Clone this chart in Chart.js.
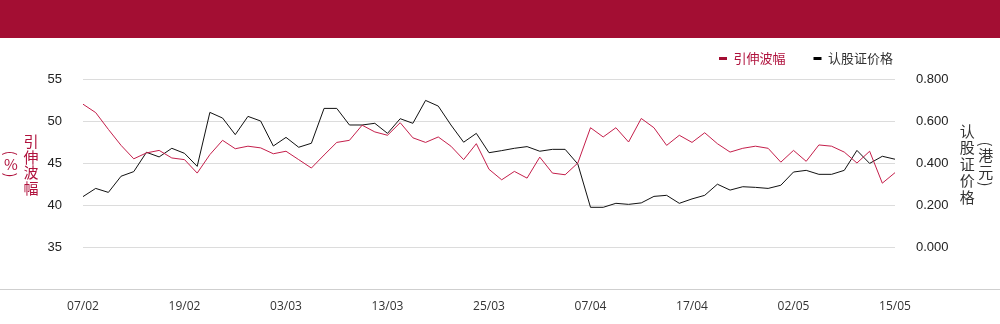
<!DOCTYPE html>
<html lang="zh">
  <head>
    <meta charset="UTF-8" />
    <title>引伸波幅 / 认股证价格</title>
    <style>
      * { margin: 0; padding: 0; }
      body { width: 1000px; height: 324px; position: relative; background: #fff; overflow: hidden; }
      .header { position: absolute; left: 0; top: 0; width: 1000px; height: 38px; background: #a30e33; }
      .wrap { position: absolute; left: 0; top: 38px; width: 1000px; height: 286px; }
      .baseline { position: absolute; left: 0; top: 289px; width: 1000px; height: 1px; background: #cfcfcf; }

      /* stacked (vertical) axis titles */
      .ytitle {
        position: absolute;
        display: flex;
        align-items: center;
        font-family: "Noto Sans CJK SC", sans-serif;
        font-size: 15px;
        z-index: 2;
      }
      .ytitle .col { text-align: center; }
      .ytitle .col div { line-height: 15.5px; }
      .ytitle .col .p { position: relative; height: 7px; }
      .ytitle .col .p span {
        position: absolute; left: 0; right: 0; top: 50%;
        margin-top: -8px; line-height: 16px;
        transform: rotate(90deg);
      }
      .ytitle.left { left: 1px; top: 124px; height: 80px; color: #b0123d; }
      .ytitle.left .col { width: 20px; }
      .ytitle.right { left: 958px; top: 122px; height: 84px; color: #333; }
      .ytitle.right .col { width: 18.5px; }
      .ytitle.right .col div { line-height: 16.6px; }
      .ytitle.right .col .p { height: 7px; }
    </style>
  </head>
  <body>
    <div class="header"></div>
    <div class="wrap"><canvas id="myChart"></canvas></div>
    <div class="baseline"></div>

    <div class="ytitle left">
      <div class="col">
        <div class="p"><span>(</span></div>
        <div>%</div>
        <div class="p"><span>)</span></div>
      </div>
      <div class="col"><div>引</div><div>伸</div><div>波</div><div>幅</div></div>
    </div>
    <div class="ytitle right">
      <div class="col"><div>认</div><div>股</div><div>证</div><div>价</div><div>格</div></div>
      <div class="col">
        <div class="p"><span>(</span></div>
        <div>港</div><div>元</div>
        <div class="p"><span>)</span></div>
      </div>
    </div>

    <script src="https://cdn.jsdelivr.net/npm/chart.js@4/dist/chart.umd.min.js"></script>
    <script>
      // Trading days (dd/mm)
      const dates = [
        '07/02', '10/02', '11/02', '12/02', '13/02', '14/02', '17/02', '18/02', '19/02',
        '20/02', '21/02', '24/02', '25/02', '26/02', '27/02', '28/02', '03/03',
        '04/03', '05/03', '06/03', '07/03', '10/03', '11/03', '12/03', '13/03',
        '14/03', '17/03', '18/03', '19/03', '20/03', '21/03', '24/03', '25/03',
        '26/03', '27/03', '28/03', '31/03', '01/04', '02/04', '03/04', '07/04',
        '08/04', '09/04', '10/04', '11/04', '14/04', '15/04', '16/04', '17/04',
        '22/04', '23/04', '24/04', '25/04', '28/04', '29/04', '30/04', '02/05',
        '06/05', '07/05', '08/05', '09/05', '12/05', '13/05', '14/05', '15/05'
      ]

      // 引伸波幅 (%)
      const volatility = [
        52.0, 51.0, 49.0, 47.1, 45.5, 46.2, 46.5, 45.6, 45.4, 43.8,
        46.0, 47.7, 46.7, 47.0, 46.8, 46.1, 46.4,
        45.4, 44.4, 45.95, 47.45, 47.7, 49.5, 48.7, 48.3, 49.8,
        48.0, 47.45, 48.1, 47.0, 45.4, 47.3, 44.25,
        43.0, 44.0, 43.2, 45.7, 43.8, 43.6, 45.0,
        49.2, 48.1, 49.2, 47.5, 50.3, 49.2, 47.1, 48.3, 47.45,
        48.6, 47.3, 46.3, 46.75, 47.0, 46.75, 45.1, 46.5, 45.2,
        47.15, 47.0, 46.3, 45.0, 46.4, 42.6, 43.85
      ]

      // 认股证价格 (港元)
      const warrantPrice = [
        0.240, 0.279, 0.260, 0.337, 0.359, 0.451, 0.429, 0.470, 0.446, 0.384,
        0.641, 0.614, 0.535, 0.622, 0.600, 0.481, 0.522,
        0.475, 0.494, 0.660, 0.660, 0.581, 0.581, 0.589, 0.541, 0.611,
        0.589, 0.698, 0.671, 0.581, 0.499, 0.541, 0.449,
        0.459, 0.470, 0.478, 0.456, 0.465, 0.465, 0.395,
        0.189, 0.189, 0.208, 0.203, 0.210, 0.241, 0.246, 0.208, 0.229,
        0.246, 0.299, 0.271, 0.287, 0.284, 0.279, 0.294, 0.357, 0.365,
        0.346, 0.346, 0.365, 0.460, 0.398, 0.432, 0.418
      ]

      const seriesNames = ['引伸波幅', '认股证价格']
      const labelEvery = 8

      const red = '#c41f4b'
      const ink = '#111111'
      const tickFont = { family: 'Arial, "Liberation Sans", sans-serif', size: 13 }

      // keep the legend short and push it up-right like the original
      const legendTweak = {
        id: 'legendTweak',
        beforeInit(chart) {
          const fit = chart.legend.fit
          chart.legend.fit = function () {
            fit.call(this)
            this.height = 41
          }
        },
        afterLayout(chart) {
          const lg = chart.legend
          lg.top -= 14
          lg.bottom -= 14
          lg.left += 26
          lg.right += 26
        }
      }

      const data = {
        labels: dates,
        datasets: [
          {
            label: seriesNames[0],
            data: volatility,
            yAxisID: 'y',
            borderColor: red,
            backgroundColor: '#a30e33',
            borderWidth: 1,
            pointRadius: 0,
            tension: 0
          },
          {
            label: seriesNames[1],
            data: warrantPrice,
            yAxisID: 'y1',
            borderColor: ink,
            backgroundColor: '#000',
            borderWidth: 1,
            pointRadius: 0,
            tension: 0
          }
        ]
      }

      const options = {
        responsive: true,
        maintainAspectRatio: false,
        animation: false,
        layout: { padding: 0 },
        plugins: {
          tooltip: { enabled: false },
          legend: {
            position: 'top',
            align: 'end',
            fullSize: false,
            labels: {
              boxWidth: 8,
              boxHeight: 3,
              padding: 28,
              font: { family: '"Noto Sans CJK SC", sans-serif', size: 13 },
              generateLabels(chart) {
                return chart.data.datasets.map((ds, i) => ({
                  text: ds.label,
                  fillStyle: ds.backgroundColor,
                  strokeStyle: ds.backgroundColor,
                  lineWidth: 0,
                  fontColor: i === 0 ? '#b0123d' : '#333',
                  hidden: false,
                  datasetIndex: i
                }))
              }
            }
          }
        },
        scales: {
          x: {
            offset: false,
            grid: { display: false, drawTicks: false },
            border: { display: false },
            ticks: {
              autoSkip: false,
              maxRotation: 0,
              padding: 10,
              color: '#333',
              font: { family: '"Open Sans", sans-serif', size: 12 },
              callback: (v, i) => (i % labelEvery === 0 ? dates[i] : '')
            },
            afterFit: (s) => { s.height = 35 }
          },
          y: {
            position: 'left',
            min: 30,
            max: 55,
            ticks: {
              stepSize: 5,
              padding: 21,
              color: '#222',
              font: tickFont,
              callback: (v) => (v < 34 ? '' : v)
            },
            grid: { color: '#dcdcdc', drawTicks: false },
            border: { display: false },
            afterFit: (s) => { s.width = 83 }
          },
          y1: {
            position: 'right',
            min: -0.2,
            max: 0.8,
            ticks: {
              stepSize: 0.2,
              padding: 21,
              color: '#222',
              font: tickFont,
              callback: (v) => (v < -0.1 ? '' : Number(v).toFixed(3))
            },
            grid: { display: false, drawTicks: false },
            border: { display: false },
            afterFit: (s) => { s.width = 105 }
          }
        }
      }

      const ctx = document.getElementById('myChart')
      new Chart(ctx, { type: 'line', data, options, plugins: [legendTweak] })
    </script>
  </body>
</html>
